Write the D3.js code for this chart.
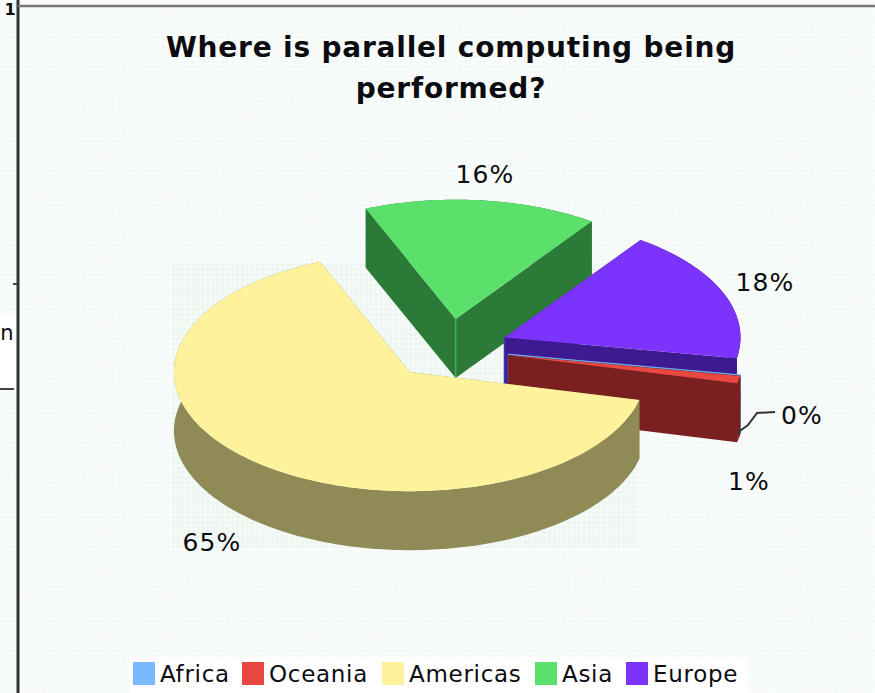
<!DOCTYPE html>
<html>
<head>
<meta charset="utf-8">
<script src="https://cdn.jsdelivr.net/npm/d3@7"></script>
<style>
html,body{margin:0;padding:0;background:#fff;}
svg{display:block;}
text{font-family:"DejaVu Sans",sans-serif;fill:#0c0c10;}
</style>
</head>
<body>
<svg id="chart" width="875" height="693"></svg>
<script>
const categories = ["Africa", "Oceania", "Americas", "Asia", "Europe"];
const shares = [0, 1, 65, 16, 18];
const percentLabels = ["0%", "1%", "65%", "16%", "18%"];
const topColors = ["#7ab8ff", "#e84840", "#fef29c", "#5ce06c", "#7c33fb"];
const sideColors = ["#3d5c80", "#7a2020", "#8f8a56", "#2c7a38", "#3e1a90"];
const titleLines = ["Where is parallel computing being", "performed?"];
const labelAnchors = [[802, 415], [749, 481], [212, 542], [485, 174], [765, 282]];

const svg = d3.select("#chart");

// Faint cross hatch behind the plot
const defs = svg.append("defs");
function addHatch(id, base, shade) {
  const p = defs.append("pattern").attr("id", id)
    .attr("width", 7).attr("height", 7)
    .attr("patternUnits", "userSpaceOnUse")
    .attr("patternTransform", "rotate(45)");
  p.append("rect").attr("width", 7).attr("height", 7).attr("fill", base);
  p.append("rect").attr("width", 3.5).attr("height", 3.5).attr("fill", shade);
  p.append("rect").attr("x", 3.5).attr("y", 3.5).attr("width", 3.5).attr("height", 3.5).attr("fill", shade);
}
addHatch("hatch", "#fbfdfc", "#f3f9f6");
addHatch("hatchDense", "#f6fbf8", "#ecf6f1");

svg.append("rect").attr("width", 875).attr("height", 693).attr("fill", "url(#hatch)");
svg.append("rect").attr("x", 172).attr("y", 263).attr("width", 466).attr("height", 285).attr("fill", "url(#hatchDense)");

// Frame fragments on the upper left
svg.append("rect").attr("x", 0).attr("y", 315).attr("width", 16).attr("height", 73).attr("fill", "#fff");
svg.append("line").attr("x1", 18).attr("x2", 18).attr("y1", 0).attr("y2", 693).attr("stroke", "#333").attr("stroke-width", 3);
svg.append("line").attr("x1", 18).attr("x2", 875).attr("y1", 6).attr("y2", 6).attr("stroke", "#777").attr("stroke-width", 2.5);
svg.append("line").attr("x1", 0).attr("x2", 14).attr("y1", 389).attr("y2", 389).attr("stroke", "#444").attr("stroke-width", 2);
svg.append("line").attr("x1", 13).attr("x2", 17).attr("y1", 284).attr("y2", 284).attr("stroke", "#444").attr("stroke-width", 2);
svg.append("text").attr("x", 7).attr("y", 340).attr("text-anchor", "middle").attr("font-size", 21).text("n");
svg.append("text").attr("x", 10).attr("y", 15).attr("text-anchor", "middle").attr("font-size", 16).attr("font-weight", "bold").text("1");

// Title
svg.append("g").selectAll("text").data(titleLines).join("text")
  .attr("x", 451).attr("y", (d, i) => 57 + i * 41)
  .attr("text-anchor", "middle")
  .attr("font-size", 28).attr("font-weight", "bold")
  .attr("letter-spacing", 0.8)
  .text(d => d);

// Exploded 3D pie: a flattened disc with each wedge pushed out along its mid angle
const rotation = 100 * Math.PI / 180;
const pie = d3.pie().sort(null).value(d => d)
  .startAngle(rotation).endAngle(rotation + 2 * Math.PI);
const arcs = pie(shares);

const center = [449, 349];
const radius = 236, tilt = 0.505, explode = 60, depth = 59;

const radial = d3.scaleLinear().domain([0, 1]).range([0, radius]);
function project(angle, r, mid, drop) {
  return [
    center[0] + explode * Math.sin(mid) + radial(r) * Math.sin(angle),
    center[1] + tilt * (-explode * Math.cos(mid) - radial(r) * Math.cos(angle)) + drop
  ];
}
const line = d3.line().curve(d3.curveLinear);

function rimAngles(a) {
  const n = Math.max(2, Math.ceil((a.endAngle - a.startAngle) / 0.02));
  return d3.range(n + 1).map(i => a.startAngle + (a.endAngle - a.startAngle) * i / n);
}

// Back-to-front paint order
const paintOrder = [3, 4, 0, 1, 2];
const wedges = svg.append("g");
paintOrder.forEach(i => {
  const a = arcs[i];
  const mid = (a.startAngle + a.endAngle) / 2;
  const g = wedges.append("g").attr("class", categories[i]);
  const angles = rimAngles(a);
  const apexTop = project(0, 0, mid, 0);
  const apexBot = project(0, 0, mid, depth);
  const wall = (ang) => [apexTop, project(ang, 1, mid, 0), project(ang, 1, mid, depth), apexBot];

  g.append("path").attr("d", line(wall(a.startAngle)) + "Z").attr("fill", sideColors[i]);
  g.append("path").attr("d", line(wall(a.endAngle)) + "Z").attr("fill", sideColors[i]);
  const rim = angles.map(t => project(t, 1, mid, 0))
    .concat(angles.slice().reverse().map(t => project(t, 1, mid, depth)));
  g.append("path").attr("d", line(rim) + "Z").attr("fill", sideColors[i]);

  // Lighter seam where the two cut faces meet
  if (shares[i] > 0) {
    g.append("path").attr("d", line([apexTop, apexBot]))
      .attr("stroke", d3.interpolateRgb(sideColors[i], i === 3 ? topColors[i] : "#3a50d0")(0.5))
      .attr("stroke-width", 1.5).attr("fill", "none");
  }

  const top = [apexTop].concat(angles.map(t => project(t, 1, mid, 0)));
  g.append("path").attr("d", line(top) + "Z")
    .attr("fill", topColors[i])
    .attr("stroke", shares[i] === 0 ? topColors[i] : "none")
    .attr("stroke-width", shares[i] === 0 ? 1 : 0)
    .attr("stroke-opacity", 0.7);
});

// Leader from the zero-share wedge to its label
svg.append("path").attr("d", line([[737, 433], [748, 425], [757, 413], [775, 412]]))
  .attr("fill", "none").attr("stroke", "#333").attr("stroke-width", 2);

// Percent labels
svg.append("g").selectAll("text").data(percentLabels).join("text")
  .attr("x", (d, i) => labelAnchors[i][0])
  .attr("y", (d, i) => labelAnchors[i][1] + 9)
  .attr("text-anchor", "middle")
  .attr("font-size", 25)
  .attr("letter-spacing", 1.2)
  .text(d => d);

// Legend
const legendX = [133, 242, 382, 535, 626];
svg.append("rect").attr("x", 129).attr("y", 657).attr("width", 619).attr("height", 36).attr("fill", "#fff");
const legend = svg.append("g").selectAll("g").data(categories).join("g")
  .attr("transform", (d, i) => `translate(${legendX[i]},662)`);
legend.append("rect").attr("width", 22).attr("height", 23)
  .attr("fill", (d, i) => topColors[i]);
legend.append("text").attr("x", 27).attr("y", 20)
  .attr("font-size", 23).attr("letter-spacing", 0.7)
  .text(d => d);
</script>
</body>
</html>
